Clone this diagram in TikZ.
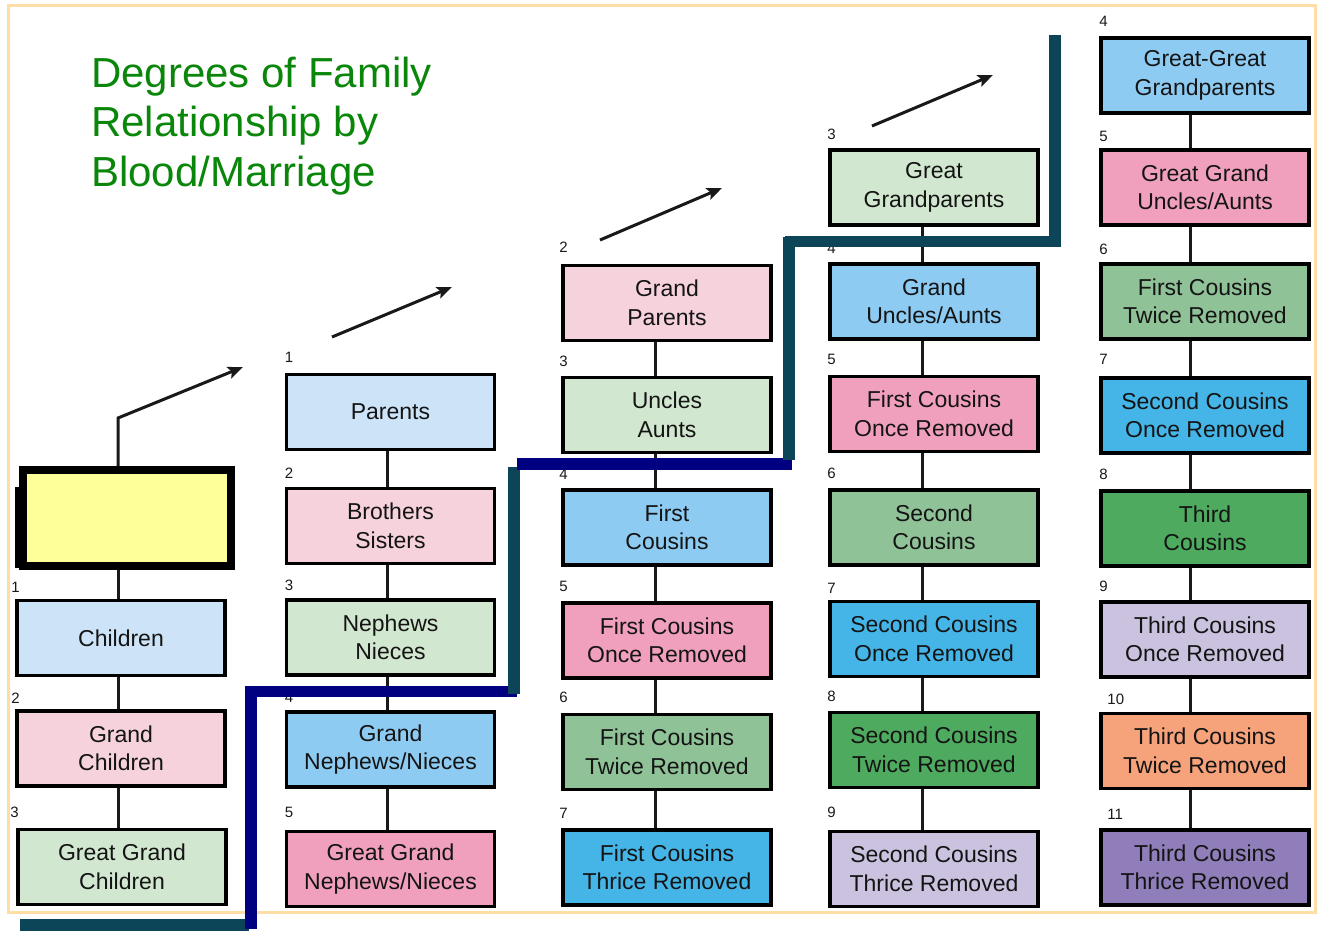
\documentclass[tikz,border=0pt]{standalone}
\usepackage{fontspec}
\setmainfont{Liberation Sans}
\usetikzlibrary{arrows.meta}
\definecolor{frameor}{HTML}{FFDDA4}
\definecolor{titlegreen}{HTML}{0A870A}
\definecolor{stteal}{HTML}{0B4557}
\definecolor{stnavy}{HTML}{000080}
\definecolor{ltblue}{HTML}{CDE4F8}
\definecolor{ltpink}{HTML}{F6D2DD}
\definecolor{ltgreen}{HTML}{D2E7D0}
\definecolor{mdblue}{HTML}{8DCBF3}
\definecolor{mdpink}{HTML}{F0A0BC}
\definecolor{mdgreen}{HTML}{90C298}
\definecolor{brblue}{HTML}{45B4E6}
\definecolor{dkgreen}{HTML}{4EAA5E}
\definecolor{lavender}{HTML}{CAC2DE}
\definecolor{orangebox}{HTML}{F6A27B}
\definecolor{purplebox}{HTML}{8F7EB9}
\definecolor{yellowbox}{HTML}{FFFF99}
\begin{document}
\begin{tikzpicture}[x=1pt,y=-1pt,
  box/.style={draw=black, line width=3.5pt, minimum width=208pt, minimum height=75pt,
    inner sep=0pt, align=center, font=\fontsize{23}{28.5}\selectfont, text=black!92},
  num/.style={anchor=base west, inner sep=0pt, font=\fontsize{15}{15}\selectfont, text=black!90},
  conn/.style={draw=black!90, line width=3pt},
  arr/.style={draw=black!90, line width=3pt, -{Stealth[length=15pt,width=12pt,inset=3pt]}},
  stair/.style={line width=11.5pt},
  ttl/.style={anchor=base west, inner sep=0pt, text=titlegreen, font=\fontsize{42}{42}\selectfont}
]
\useasboundingbox (0,0) rectangle (1318,930);
\fill[white] (0,0) rectangle (1318,930);
\draw[frameor, line width=3pt] (8,5) rectangle (1315,912);

% title
\node[ttl] (t1) at (91,87) {Degrees of Family};
\node[ttl] (t2) at (91,136) {Relationship by};
\node[ttl] (t3) at (91,186) {Blood/Marriage};

% ---------- coordinates for arrows ----------
\coordinate (c1bend) at (118,418);
\coordinate (c1tip) at (243,367);
\coordinate (a2s) at (332,337);
\coordinate (a2e) at (452,287);
\coordinate (a3s) at (600,240);
\coordinate (a3e) at (722,188);
\coordinate (a4s) at (872,126);
\coordinate (a4e) at (993,75);

% ---------- column 1 ----------
\node[box, fill=white, minimum height=77pt] (self) at (121,527.5) {};
\node[box, fill=yellowbox, line width=8pt, minimum width=208pt, minimum height=96pt] (you) at (127,518) {};
\node[box, fill=ltblue] (children) at (121,638) {Children};
\node[box, fill=ltpink] (gchildren) at (121,748.5) {Grand\\Children};
\node[box, fill=ltgreen] (ggchildren) at (122,867) {Great Grand\\Children};

% ---------- column 2 ----------
\node[box, fill=ltblue] (parents) at (390.5,412) {Parents};
\node[box, fill=ltpink] (siblings) at (390.5,526) {Brothers\\Sisters};
\node[box, fill=ltgreen] (nephews) at (390.5,637.5) {Nephews\\Nieces};
\node[box, fill=mdblue] (gnephews) at (390.5,749.5) {Grand\\Nephews/Nieces};
\node[box, fill=mdpink] (ggnephews) at (390.5,869) {Great Grand\\Nephews/Nieces};

% ---------- column 3 ----------
\node[box, fill=ltpink] (gparents) at (667,303) {Grand\\Parents};
\node[box, fill=ltgreen] (uncles) at (667,415) {Uncles\\Aunts};
\node[box, fill=mdblue] (fc) at (667,527.5) {First\\Cousins};
\node[box, fill=mdpink] (fcone) at (667,640.5) {First Cousins\\Once Removed};
\node[box, fill=mdgreen] (fctwo) at (667,752) {First Cousins\\Twice Removed};
\node[box, fill=brblue] (fcthree) at (667,867.5) {First Cousins\\Thrice Removed};

% ---------- column 4 ----------
\node[box, fill=ltgreen] (ggparents) at (934,187.5) {Great\\Grandparents};
\node[box, fill=mdblue] (guncles) at (934,301.5) {Grand\\Uncles/Aunts};
\node[box, fill=mdpink] (fconeb) at (934,414) {First Cousins\\Once Removed};
\node[box, fill=mdgreen] (sc) at (934,527.5) {Second\\Cousins};
\node[box, fill=brblue] (scone) at (934,639) {Second Cousins\\Once Removed};
\node[box, fill=dkgreen] (sctwo) at (934,750) {Second Cousins\\Twice Removed};
\node[box, fill=lavender] (scthree) at (934,869) {Second Cousins\\Thrice Removed};

% ---------- column 5 ----------
\node[box, fill=mdblue] (gggparents) at (1205,75.5) {Great-Great\\Grandparents};
\node[box, fill=mdpink] (gguncles) at (1205,187.5) {Great Grand\\Uncles/Aunts};
\node[box, fill=mdgreen] (fctwob) at (1205,301.5) {First Cousins\\Twice Removed};
\node[box, fill=brblue] (sconeb) at (1205,415.5) {Second Cousins\\Once Removed};
\node[box, fill=dkgreen] (tc) at (1205,528.5) {Third\\Cousins};
\node[box, fill=lavender] (tcone) at (1205,639.5) {Third Cousins\\Once Removed};
\node[box, fill=orangebox] (tctwo) at (1205,751) {Third Cousins\\Twice Removed};
\node[box, fill=purplebox] (tcthree) at (1205,867.5) {Third Cousins\\Thrice Removed};

% ---------- connectors ----------
\draw[conn] ([xshift=-9pt]you.south) -- ([xshift=-3pt]children.north);
\draw[conn] ([xshift=-3pt]children.south) -- ([xshift=-3pt]gchildren.north);
\draw[conn] ([xshift=-3pt]gchildren.south) -- ([xshift=-4pt]ggchildren.north);
\draw[conn, -{Stealth[length=15pt,width=12pt,inset=3pt]}] ([xshift=-9pt]you.north) -- (c1bend) -- (c1tip);

\draw[conn] ([xshift=-3.5pt]parents.south) -- ([xshift=-3.5pt]siblings.north);
\draw[conn] ([xshift=-3.5pt]siblings.south) -- ([xshift=-3.5pt]nephews.north);
\draw[conn] ([xshift=-3.5pt]nephews.south) -- ([xshift=-3.5pt]gnephews.north);
\draw[conn] ([xshift=-3.5pt]gnephews.south) -- ([xshift=-3.5pt]ggnephews.north);
\draw[arr] (a2s) -- (a2e);

\draw[conn] ([xshift=-12pt]gparents.south) -- ([xshift=-12pt]uncles.north);
\draw[conn] ([xshift=-12pt]uncles.south) -- ([xshift=-12pt]fc.north);
\draw[conn] ([xshift=-12pt]fc.south) -- ([xshift=-12pt]fcone.north);
\draw[conn] ([xshift=-12pt]fcone.south) -- ([xshift=-12pt]fctwo.north);
\draw[conn] ([xshift=-12pt]fctwo.south) -- ([xshift=-12pt]fcthree.north);
\draw[arr] (a3s) -- (a3e);

\draw[conn] ([xshift=-12pt]ggparents.south) -- ([xshift=-12pt]guncles.north);
\draw[conn] ([xshift=-12pt]guncles.south) -- ([xshift=-12pt]fconeb.north);
\draw[conn] ([xshift=-12pt]fconeb.south) -- ([xshift=-12pt]sc.north);
\draw[conn] ([xshift=-12pt]sc.south) -- ([xshift=-12pt]scone.north);
\draw[conn] ([xshift=-12pt]scone.south) -- ([xshift=-12pt]sctwo.north);
\draw[conn] ([xshift=-12pt]sctwo.south) -- ([xshift=-12pt]scthree.north);
\draw[arr] (a4s) -- (a4e);

\draw[conn] ([xshift=-15pt]gggparents.south) -- ([xshift=-15pt]gguncles.north);
\draw[conn] ([xshift=-15pt]gguncles.south) -- ([xshift=-15pt]fctwob.north);
\draw[conn] ([xshift=-15pt]fctwob.south) -- ([xshift=-15pt]sconeb.north);
\draw[conn] ([xshift=-15pt]sconeb.south) -- ([xshift=-15pt]tc.north);
\draw[conn] ([xshift=-15pt]tc.south) -- ([xshift=-15pt]tcone.north);
\draw[conn] ([xshift=-15pt]tcone.south) -- ([xshift=-15pt]tctwo.north);
\draw[conn] ([xshift=-15pt]tctwo.south) -- ([xshift=-15pt]tcthree.north);

% ---------- degree numbers ----------
\node[num] (n-children) at ([xshift=-4pt,yshift=6pt]children.north west) {1};
\node[num] (n-gchildren) at ([xshift=-4pt,yshift=6pt]gchildren.north west) {2};
\node[num] (n-ggchildren) at ([xshift=-6pt,yshift=10pt]ggchildren.north west) {3};

\node[num] (n-parents) at ([xshift=0pt,yshift=10pt]parents.north west) {1};
\node[num] (n-siblings) at ([xshift=0pt,yshift=8pt]siblings.north west) {2};
\node[num] (n-nephews) at ([xshift=0pt,yshift=8pt]nephews.north west) {3};
\node[num] (n-gnephews) at ([xshift=0pt,yshift=8pt]gnephews.north west) {4};
\node[num] (n-ggnephews) at ([xshift=0pt,yshift=12pt]ggnephews.north west) {5};

\node[num] (n-gparents) at ([xshift=-2pt,yshift=11pt]gparents.north west) {2};
\node[num] (n-uncles) at ([xshift=-2pt,yshift=9pt]uncles.north west) {3};
\node[num] (n-fc) at ([xshift=-2pt,yshift=9pt]fc.north west) {4};
\node[num] (n-fcone) at ([xshift=-2pt,yshift=10pt]fcone.north west) {5};
\node[num] (n-fctwo) at ([xshift=-2pt,yshift=10pt]fctwo.north west) {6};
\node[num] (n-fcthree) at ([xshift=-2pt,yshift=10pt]fcthree.north west) {7};

\node[num] (n-ggparents) at ([xshift=-1pt,yshift=9pt]ggparents.north west) {3};
\node[num] (n-guncles) at ([xshift=-1pt,yshift=9pt]guncles.north west) {4};
\node[num] (n-fconeb) at ([xshift=-1pt,yshift=10pt]fconeb.north west) {5};
\node[num] (n-sc) at ([xshift=-1pt,yshift=10pt]sc.north west) {6};
\node[num] (n-scone) at ([xshift=-1pt,yshift=6pt]scone.north west) {7};
\node[num] (n-sctwo) at ([xshift=-1pt,yshift=9pt]sctwo.north west) {8};
\node[num] (n-scthree) at ([xshift=-1pt,yshift=12pt]scthree.north west) {9};

\node[num] (n-gggparents) at ([xshift=0pt,yshift=10pt]gggparents.north west) {4};
\node[num] (n-gguncles) at ([xshift=0pt,yshift=7pt]gguncles.north west) {5};
\node[num] (n-fctwob) at ([xshift=0pt,yshift=8pt]fctwob.north west) {6};
\node[num] (n-sconeb) at ([xshift=0pt,yshift=12pt]sconeb.north west) {7};
\node[num] (n-tc) at ([xshift=0pt,yshift=10pt]tc.north west) {8};
\node[num] (n-tcone) at ([xshift=0pt,yshift=9pt]tcone.north west) {9};
\node[num] (n-tctwo) at ([xshift=8pt,yshift=7pt]tctwo.north west) {10};
\node[num] (n-tcthree) at ([xshift=8pt,yshift=9pt]tcthree.north west) {11};

% ---------- staircase ----------
\draw[stair, stteal] (20,925) -- (249,925);
\draw[stair, stnavy] (251,928.5) -- (251,686);
\draw[stair, stnavy] (253,691.5) -- (517,691.5);
\draw[stair, stteal] (514,694) -- (514,467);
\draw[stair, stnavy] (517,464) -- (792,464);
\draw[stair, stteal] (789,460) -- (789,237);
\draw[stair, stteal] (785,241.5) -- (1058,241.5);
\draw[stair, stteal] (1055,247) -- (1055,35);
\end{tikzpicture}
\end{document}
